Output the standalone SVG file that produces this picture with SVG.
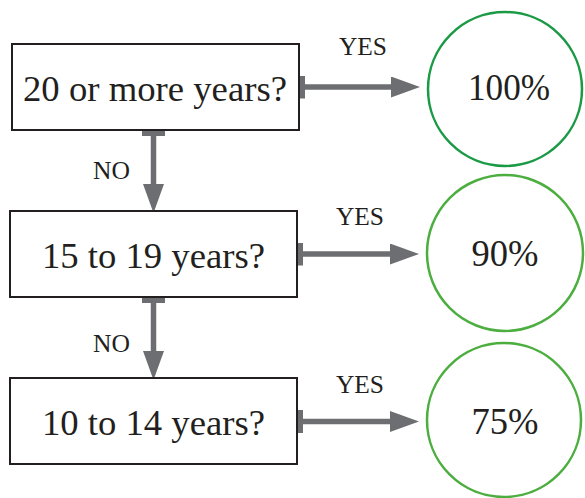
<svg xmlns="http://www.w3.org/2000/svg" width="585" height="498" viewBox="0 0 585 498">
<style>
text{font-family:'Liberation Serif','Times New Roman',Tinos,'DejaVu Serif',serif;fill:#231f20;text-anchor:middle}
.box{fill:#fff;stroke:#231f20;stroke-width:2}
.q{font-size:36px}
.lbl{font-size:25px}
.pct{font-size:37px}
.c1{fill:#fff;stroke:#1b9a45;stroke-width:2.5}
.c2{fill:#fff;stroke:#4bae3f;stroke-width:2.5}
.conn{fill:none;stroke:#6d6e71;stroke-width:5.5;marker-start:url(#cap);marker-end:url(#head)}
</style>
<defs>
<marker id="head" viewBox="0 0 29 21" refX="0" refY="10.5" markerWidth="29" markerHeight="21" markerUnits="userSpaceOnUse" orient="auto">
<path d="M0,0 L29,10.5 L0,21 Z" fill="#6d6e71"/>
</marker>
<marker id="cap" viewBox="0 0 6 23" refX="0" refY="11.5" markerWidth="6" markerHeight="23" markerUnits="userSpaceOnUse" orient="auto">
<rect x="0" y="0" width="6" height="23" fill="#6d6e71"/>
</marker>
</defs>
<g id="connectors">
<path class="conn" d="M299,87 L391,87"/>
<path class="conn" d="M297,254 L390,254"/>
<path class="conn" d="M297,421.5 L390,421.5"/>
<path class="conn" d="M153.5,130 L153.5,184"/>
<path class="conn" d="M153.5,297 L153.5,351"/>
<text class="lbl" x="363" y="55" textLength="48" lengthAdjust="spacingAndGlyphs">YES</text>
<text class="lbl" x="360" y="225" textLength="48" lengthAdjust="spacingAndGlyphs">YES</text>
<text class="lbl" x="360" y="393" textLength="48" lengthAdjust="spacingAndGlyphs">YES</text>
<text class="lbl" x="111.5" y="179" textLength="37" lengthAdjust="spacingAndGlyphs">NO</text>
<text class="lbl" x="111.5" y="351.5" textLength="37" lengthAdjust="spacingAndGlyphs">NO</text>
</g>
<g id="q20">
<rect class="box" x="12" y="44" width="287" height="86"/>
<text class="q" x="155" y="100.5" textLength="264" lengthAdjust="spacingAndGlyphs">20 or more years?</text>
</g>
<g id="q15">
<rect class="box" x="10" y="211" width="287" height="86"/>
<text class="q" x="153.5" y="268" textLength="223" lengthAdjust="spacingAndGlyphs">15 to 19 years?</text>
</g>
<g id="q10">
<rect class="box" x="10" y="378" width="287" height="86"/>
<text class="q" x="153.5" y="435" textLength="223" lengthAdjust="spacingAndGlyphs">10 to 14 years?</text>
</g>
<g id="p100">
<circle class="c1" cx="505" cy="89" r="77"/>
<text class="pct" x="509" y="100" textLength="82" lengthAdjust="spacingAndGlyphs">100%</text>
</g>
<g id="p90">
<circle class="c2" cx="505" cy="253" r="78"/>
<text class="pct" x="505" y="266" textLength="67" lengthAdjust="spacingAndGlyphs">90%</text>
</g>
<g id="p75">
<circle class="c2" cx="504" cy="420" r="77"/>
<text class="pct" x="505" y="434" textLength="67" lengthAdjust="spacingAndGlyphs">75%</text>
</g>
</svg>
